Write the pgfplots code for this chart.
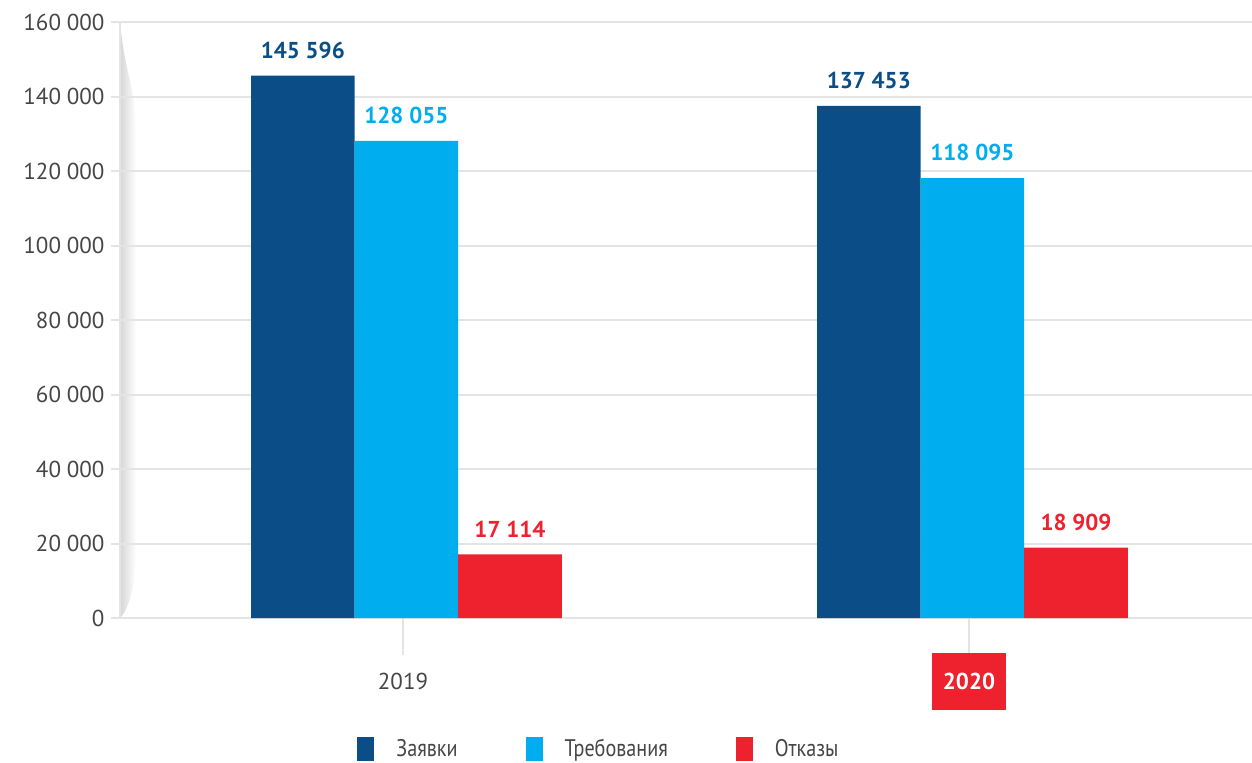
\documentclass[border=0pt]{standalone}
\usepackage{pgfplots}
\pgfplotsset{compat=1.18}
\usepackage{fontspec}
\setmainfont{PT Sans}
\newfontfamily\condfont[FakeStretch=0.84]{PT Sans}
\definecolor{zblue}{RGB}{11,78,135}
\definecolor{tblue}{RGB}{0,174,239}
\definecolor{ored}{RGB}{237,34,46}
\definecolor{txt}{RGB}{70,70,70}
\definecolor{gridg}{RGB}{228,228,228}
\newcommand{\fnt}{\fontsize{11.5}{13}\selectfont}
\begin{document}
\begin{tikzpicture}[font=\fnt]
\begin{axis}[
    set layers,
    width=566pt, height=298pt, scale only axis,
    ybar, bar width=0.183,
    xmin=-0.5, xmax=1.5,
    ymin=0, ymax=160000,
    ytick={0,20000,...,160000},
    xtick={0,1},
    xticklabels={2019,{\colorbox{ored}{\parbox[c][22.5pt][c]{31pt}{\centering\bfseries\color{white}2020}}}},
    axis x line*=bottom, axis y line*=left,
    axis line style={draw=gridg, line width=1.3pt, -},
    ymajorgrids, grid style={draw=gridg, line width=1pt},
    tick align=outside,
    ytick style={draw=gridg, line width=1pt, /pgfplots/major tick length=4.5pt},
    xtick style={draw=gridg, line width=1pt, /pgfplots/major tick length=18.5pt},
    scaled y ticks=false,
    /pgf/number format/fixed,
    /pgf/number format/1000 sep={\hspace{0.25em}},
    /pgf/number format/assume math mode=true,
    yticklabel style={text=txt, font=\fnt},
    xticklabel style={text=txt, font=\fnt, anchor=center, yshift=-27.5pt},
    legend style={at={(rel axis cs:0.424,-0.22)}, anchor=center, draw=none,
        font=\fontsize{12}{13}\selectfont\condfont, text=txt, legend columns=3,
        /tikz/every even column/.append style={column sep=32pt},
        /tikz/every odd column/.append style={column sep=9pt}},
    legend image code/.code={\fill[#1] (0pt,-6pt) rectangle (8.5pt,6pt);},
]
\begin{pgfonlayer}{axis background}
\shade[left color=black!16, right color=white]
  (rel axis cs:0,1) .. controls ([xshift=3pt,yshift=-30pt]rel axis cs:0,1) and ([xshift=8pt]rel axis cs:0,0.9) .. ([xshift=8pt]rel axis cs:0,0.8)
  -- ([xshift=8pt]rel axis cs:0,0.12) .. controls ([xshift=8pt]rel axis cs:0,0.04) and ([xshift=3pt]rel axis cs:0,0.01) .. (rel axis cs:0,0) -- cycle;
\end{pgfonlayer}
\addplot[fill=zblue, draw=none, bar shift=-0.177, nodes near coords,
    every node near coord/.append style={text=zblue, font=\fnt\bfseries, yshift=5pt}]
    coordinates {(0,145596) (1,137453)};
\addplot[fill=tblue, draw=none, bar shift=0.006, nodes near coords,
    every node near coord/.append style={text=tblue, font=\fnt\bfseries, yshift=5pt}]
    coordinates {(0,128055) (1,118095)};
\addplot[fill=ored, draw=none, bar shift=0.189, nodes near coords,
    every node near coord/.append style={text=ored, font=\fnt\bfseries, yshift=5pt}]
    coordinates {(0,17114) (1,18909)};
\legend{Заявки,Требования,Отказы}
\coordinate (O) at (rel axis cs:0,0);
\end{axis}
\pgfresetboundingbox
\useasboundingbox ([xshift=-60pt,yshift=-72pt]O) rectangle ([xshift=566pt,yshift=309pt]O);
\end{tikzpicture}
\end{document}
